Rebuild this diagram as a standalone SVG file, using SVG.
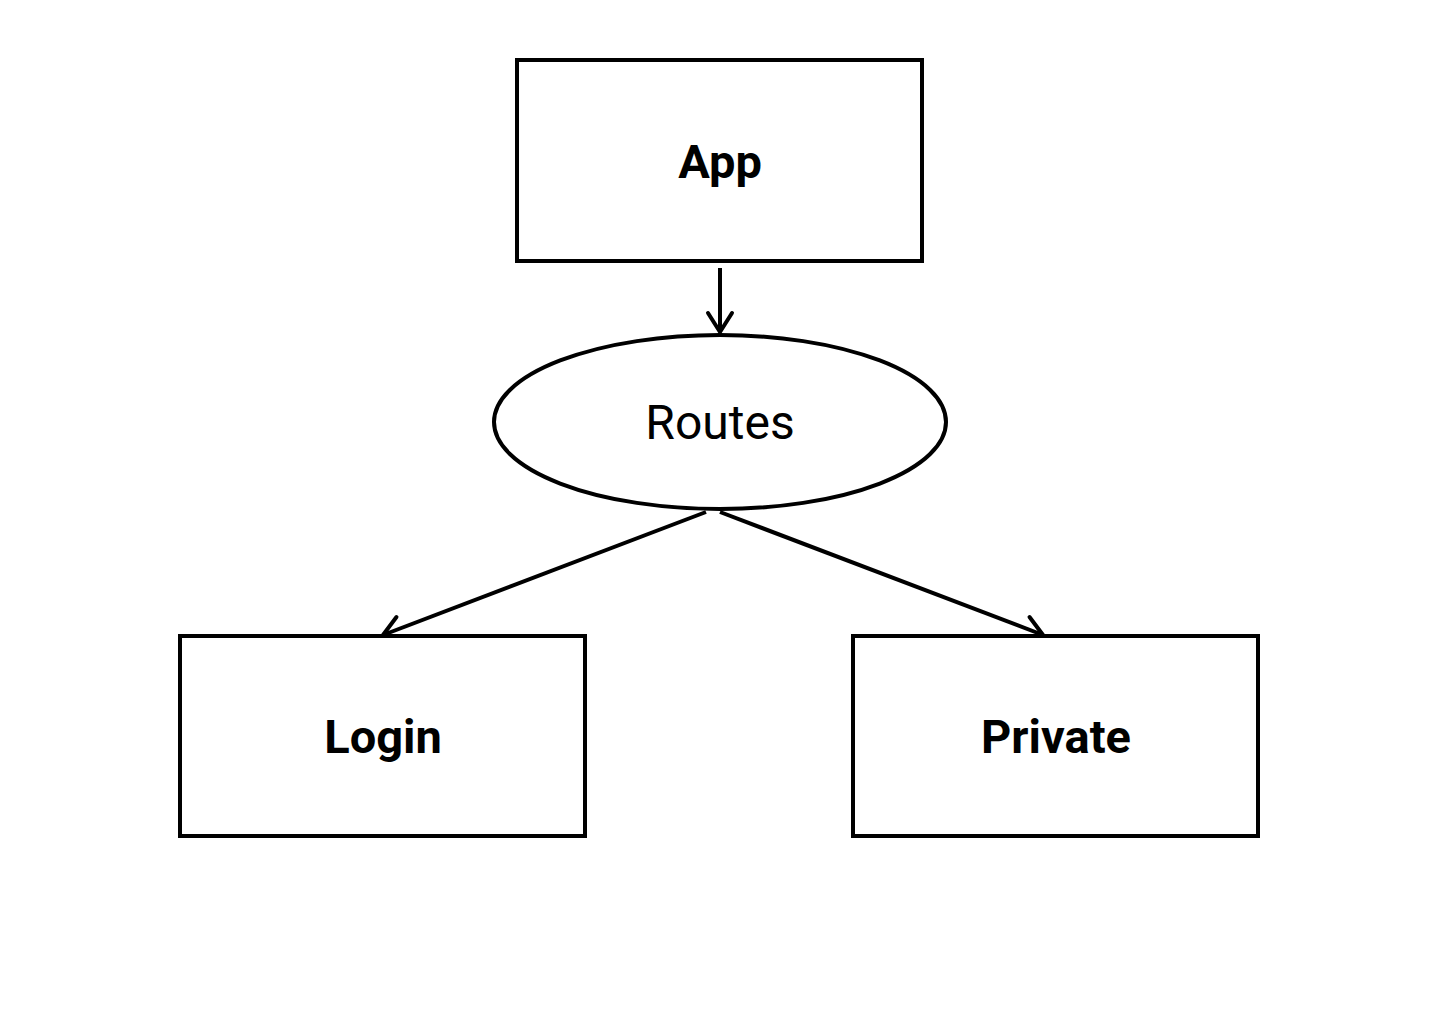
<svg xmlns="http://www.w3.org/2000/svg" width="1440" height="1024" viewBox="0 0 1440 1024">
<style>
.box{fill:#fff;stroke:#000;stroke-width:4}
.lbl{font-family:Roboto,"Liberation Sans",sans-serif;font-size:48px;fill:#000;text-anchor:middle;dominant-baseline:central}
.b{font-weight:bold;font-size:47px}
.edge{stroke:#000;stroke-width:4;fill:none;marker-end:url(#arr)}
</style>
<defs>
<marker id="arr" markerUnits="userSpaceOnUse" viewBox="-22 -16 26 32" refX="0" refY="0" markerWidth="26" markerHeight="32" orient="auto">
<path d="M-19,-12 L0,0 L-19,12" fill="none" stroke="#000" stroke-width="4" stroke-linecap="round" stroke-linejoin="round"/>
</marker>
</defs>
<rect width="1440" height="1024" fill="#fff"/>
<g id="connectors">
<line class="edge" x1="720" y1="268" x2="720" y2="332"/>
<line class="edge" x1="706" y1="512" x2="383" y2="635"/>
<line class="edge" x1="720" y1="512" x2="1043" y2="635"/>
</g>
<g id="app">
<rect class="box" x="517" y="60" width="405" height="201"/>
<text class="lbl b" x="720" y="161">App</text>
</g>
<g id="routes">
<ellipse class="box" cx="720" cy="422" rx="226" ry="87"/>
<text class="lbl" x="720" y="422">Routes</text>
</g>
<g id="login">
<rect class="box" x="180" y="636" width="405" height="200"/>
<text class="lbl b" x="383" y="736">Login</text>
</g>
<g id="private">
<rect class="box" x="853" y="636" width="405" height="200"/>
<text class="lbl b" x="1056" y="736">Private</text>
</g>
</svg>
